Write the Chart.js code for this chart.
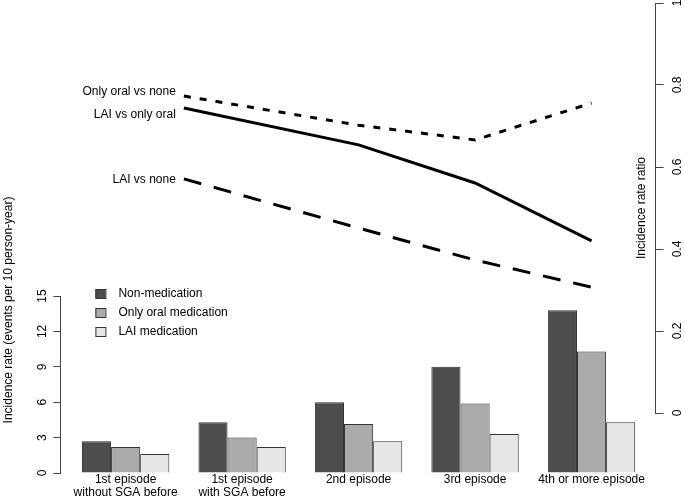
<!DOCTYPE html>
<html>
<head>
<meta charset="utf-8">
<script src="https://cdn.jsdelivr.net/npm/chart.js@4.4.1/dist/chart.umd.min.js"></script>
<style>
  body { margin: 0; background: #fff; }
</style>
</head>
<body>
<canvas id="myChart" width="685" height="499"></canvas>
<script>
// bar data (incidence rate, events per 10 person-year)
var categories = [['1st episode', 'without SGA before'], ['1st episode', 'with SGA before'], '2nd episode', '3rd episode', '4th or more episode'];
var barNames = ['Non-medication', 'Only oral medication', 'LAI medication'];
var nonMed = [2.7, 4.3, 6.0, 9.0, 13.8];
var oralMed = [2.2, 3.0, 4.15, 5.9, 10.3];
var laiMed = [1.6, 2.2, 2.7, 3.3, 4.3];

// ratio lines (incidence rate ratio), first point sits between the two 1st-episode groups
var ratioX = [0.5, 2, 3, 4];
var lineNames = ['Only oral vs none', 'LAI vs only oral', 'LAI vs none'];
var oralVsNone = [0.773, 0.702, 0.666, 0.756];
var laiVsOral = [0.744, 0.654, 0.561, 0.42];
var laiVsNone = [0.571, 0.451, 0.373, 0.307];

var rateTicks = [0, 3, 6, 9, 12, 15];
var ratioTicks = [0, 0.2, 0.4, 0.6, 0.8, 1];

var barColors = ['#4d4d4d', '#aaaaaa', '#e6e6e6'];
var dashes = [[7, 9], [], [18, 13]];
var labelShift = [-4, 7, 1];
var font = '"Liberation Sans", Arial, sans-serif';

function pts(xs, ys) {
  return ys.map(function (y, i) { return { x: xs[i], y: y }; });
}
function barPts(ys) {
  return ys.map(function (y, i) { return { x: i, y: y }; });
}

var barSeries = [nonMed, oralMed, laiMed];
var lineSeries = [oralVsNone, laiVsOral, laiVsNone];
var datasets = [];
barSeries.forEach(function (s, i) {
  datasets.push({
    type: 'bar', label: barNames[i], data: barPts(s),
    backgroundColor: barColors[i], borderColor: '#333', borderWidth: 1,
    categoryPercentage: 0.75, barPercentage: 1,
    xAxisID: 'x', yAxisID: 'y', order: 2
  });
});
lineSeries.forEach(function (s, i) {
  datasets.push({
    type: 'line', label: lineNames[i], data: pts(ratioX, s),
    borderColor: '#000', borderWidth: 3, borderDash: dashes[i], borderCapStyle: 'butt',
    pointRadius: 0, tension: 0, fill: false,
    xAxisID: 'x', yAxisID: 'ratio', order: 1
  });
});

var annotate = {
  id: 'annotate',
  afterDraw: function (chart) {
    var ctx = chart.ctx;
    ctx.save();
    ctx.fillStyle = '#000';
    ctx.font = '12px ' + font;
    // labels at the start of each ratio line
    ctx.textAlign = 'right';
    ctx.textBaseline = 'middle';
    for (var i = 0; i < lineNames.length; i++) {
      var p = chart.getDatasetMeta(3 + i).data[0];
      ctx.fillText(lineNames[i], p.x - 8, p.y + labelShift[i]);
    }
    // legend
    var y = chart.scales.y;
    var lx = chart.chartArea.left + 35, ly = y.top - 7;
    ctx.textAlign = 'left';
    for (var j = 0; j < barNames.length; j++) {
      var cy = ly + j * 19;
      ctx.fillStyle = barColors[j];
      ctx.fillRect(lx, cy, 10, 9);
      ctx.strokeStyle = '#333';
      ctx.lineWidth = 1;
      ctx.strokeRect(lx + 0.5, cy + 0.5, 10, 9);
      ctx.fillStyle = '#000';
      ctx.fillText(barNames[j], lx + 23, cy + 5);
    }
    // axis titles
    ctx.textAlign = 'center';
    ctx.save();
    ctx.translate(9, 310);
    ctx.rotate(-Math.PI / 2);
    ctx.fillText('Incidence rate (events per 10 person-year)', 0, 0);
    ctx.restore();
    var r = chart.scales.ratio;
    ctx.save();
    ctx.translate(r.left - 14, (r.top + r.bottom) / 2);
    ctx.rotate(-Math.PI / 2);
    ctx.fillText('Incidence rate ratio', 0, 0);
    ctx.restore();
    ctx.restore();
  }
};

function noPad(s) {
  s.paddingTop = 0; s.paddingBottom = 0; s.paddingLeft = 0; s.paddingRight = 0;
}

function sideAxis(pos, min, max, ticks, stack, sw, w, tl, pad) {
  return {
    type: 'linear', position: pos, min: min, max: max,
    stack: stack, stackWeight: sw, weight: w,
    afterBuildTicks: function (s) { s.ticks = ticks.map(function (v) { return { value: v }; }); },
    afterFit: noPad,
    grid: { drawOnChartArea: false, drawTicks: true, tickLength: tl, tickColor: '#444', lineWidth: 1 },
    border: { display: true, color: '#444', width: 1 },
    ticks: {
      color: '#000', font: { family: font, size: 12 }, minRotation: 90, maxRotation: 90,
      crossAlign: 'center', padding: pad,
      callback: function (v) { return String(v); }
    }
  };
}
function dummyAxis(pos, stack, sw, w) {
  return {
    type: 'linear', position: pos, stack: stack, stackWeight: sw, weight: w,
    afterFit: noPad,
    grid: { display: false, drawTicks: false }, border: { display: false },
    ticks: { display: false }
  };
}

new Chart('myChart', {
  type: 'bar',
  data: { datasets: datasets },
  plugins: [annotate],
  options: {
    responsive: false,
    animation: false,
    layout: { padding: { left: 31, right: -5, top: 3, bottom: 0 } },
    plugins: { legend: { display: false }, tooltip: { enabled: false } },
    scales: {
      x: {
        type: 'linear', min: -0.56, max: 4.55, offset: false,
        afterBuildTicks: function (s) { s.ticks = categories.map(function (c, i) { return { value: i }; }); },
        afterFit: noPad,
        grid: { display: false, drawTicks: false }, border: { display: false },
        ticks: {
          autoSkip: false, maxRotation: 0, padding: 0, color: '#000',
          font: { family: font, size: 12, lineHeight: '13px' },
          callback: function (v) { return categories[v]; }
        }
      },
      yTop: dummyAxis('left', 'L', 293, 2),
      y: sideAxis('left', 0, 15, rateTicks, 'L', 177, 1, 7, 4),
      ratio: sideAxis('right', 0, 1, ratioTicks, 'R', 410, 1, 8, 6),
      yBot: dummyAxis('right', 'R', 60, 2)
    }
  }
});
</script>
</body>
</html>
